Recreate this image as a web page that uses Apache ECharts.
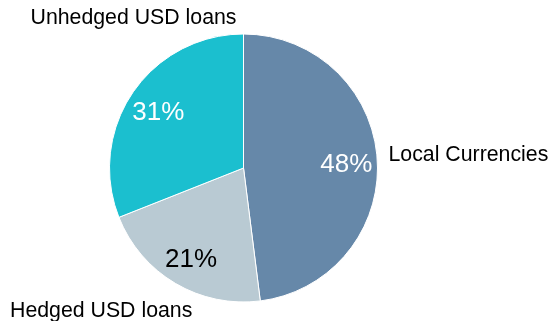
<!DOCTYPE html>
<html>
<head>
<meta charset="utf-8">
<script src="https://cdn.jsdelivr.net/npm/echarts@6/dist/echarts.min.js"></script>
<style>
  html, body { margin: 0; padding: 0; background: #fff; }
  #chart { width: 550px; height: 321px; }
</style>
</head>
<body>
<div id="chart"></div>
<script>
// Funding currency mix
const categories = ['Local Currencies', 'Hedged USD loans', 'Unhedged USD loans'];
const shares = [48, 21, 31];
const sliceColors = ['#6688A9', '#B9CAD3', '#1BBFCF'];
const percentTextColors = ['#ffffff', '#000000', '#ffffff'];

const CX = 243.5, CY = 168, R = 134;
const FONT = '"Liberation Sans", Arial, sans-serif';

// Where each category name sits around the pie
const nameSpots = [
  { x: CX + R + 11, y: CY - 13, align: 'left' },
  { x: 10, y: CY + R + 9, align: 'left' },
  { x: 133.5, y: 18, align: 'center' }
];

const data = categories.map((name, i) => ({
  name,
  value: shares[i],
  itemStyle: { color: sliceColors[i] }
}));

const ringData = categories.map((name, i) => ({
  name,
  value: shares[i],
  label: { color: percentTextColors[i] }
}));

const chart = echarts.init(document.getElementById('chart'), null, { renderer: 'canvas' });
chart.setOption({
  animation: false,
  series: [
    {
      type: 'pie',
      center: [CX, CY],
      radius: [0, R],
      startAngle: 90,
      clockwise: true,
      silent: true,
      avoidLabelOverlap: false,
      itemStyle: { borderColor: '#ffffff', borderWidth: 1 },
      label: {
        show: true,
        position: 'outside',
        formatter: '{b}',
        fontFamily: FONT,
        fontSize: 21.3,
        color: '#000000',
        overflow: 'none',
        width: 300
      },
      labelLine: { show: false },
      labelLayout: function (p) {
        const s = nameSpots[p.dataIndex];
        return { x: s.x, y: s.y, align: s.align, verticalAlign: 'middle' };
      },
      data: data
    },
    {
      // transparent ring carrying the percentage labels
      type: 'pie',
      center: [CX, CY],
      radius: [66, R],
      startAngle: 90,
      clockwise: true,
      silent: true,
      itemStyle: { color: 'rgba(0,0,0,0)' },
      label: {
        show: true,
        position: 'inside',
        formatter: '{d}%',
        fontFamily: FONT,
        fontSize: 26
      },
      labelLine: { show: false },
      labelLayout: { dy: 3 },
      data: ringData
    }
  ]
});
</script>
</body>
</html>
